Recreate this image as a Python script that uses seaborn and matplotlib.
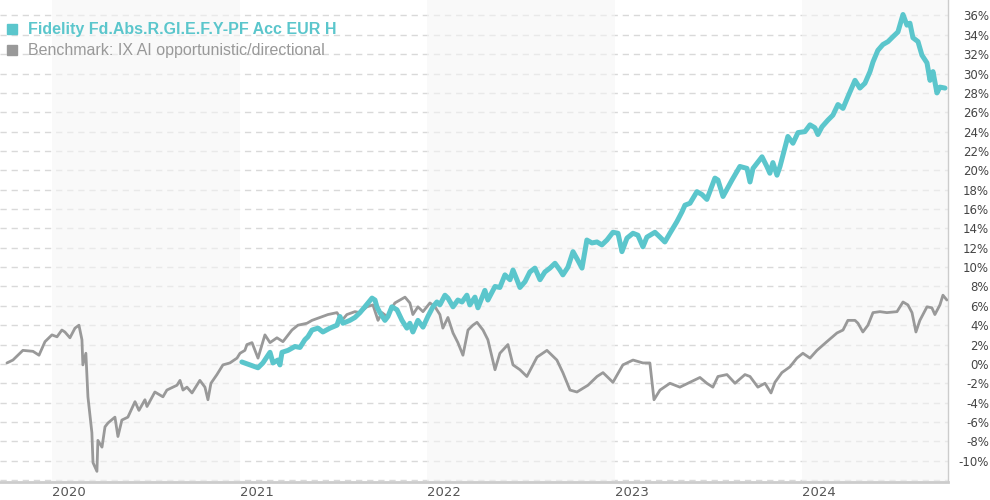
import numpy as np
import pandas as pd
import matplotlib.pyplot as plt
import seaborn as sns
from matplotlib.lines import Line2D


# Data, time as decimal years, values in %

bench_t = [2019.760, 2019.792, 2019.845, 2019.899, 2019.931, 2019.963, 2020.000, 2020.027,
           2020.053, 2020.069, 2020.096, 2020.123, 2020.144, 2020.160, 2020.165, 2020.181,
           2020.192, 2020.213, 2020.219, 2020.240, 2020.245, 2020.267, 2020.283, 2020.299,
           2020.336, 2020.352, 2020.373, 2020.405, 2020.443, 2020.464, 2020.496, 2020.507,
           2020.549, 2020.592, 2020.613, 2020.667, 2020.683, 2020.699, 2020.720, 2020.747,
           2020.789, 2020.816, 2020.832, 2020.848, 2020.880, 2020.912, 2020.949, 2020.987,
           2021.003, 2021.029, 2021.040, 2021.067, 2021.083, 2021.099, 2021.136, 2021.163,
           2021.200, 2021.232, 2021.280, 2021.312, 2021.360, 2021.387, 2021.429, 2021.472,
           2021.520, 2021.547, 2021.573, 2021.616, 2021.643, 2021.680, 2021.712, 2021.739,
           2021.760, 2021.787, 2021.829, 2021.883, 2021.909, 2021.925, 2021.952, 2021.979,
           2022.016, 2022.043, 2022.069, 2022.085, 2022.112, 2022.139, 2022.165, 2022.192,
           2022.219, 2022.245, 2022.267, 2022.299, 2022.325, 2022.363, 2022.389, 2022.432,
           2022.459, 2022.496, 2022.533, 2022.587, 2022.640, 2022.693, 2022.725, 2022.763,
           2022.800, 2022.859, 2022.907, 2022.939, 2022.992, 2023.045, 2023.099, 2023.152,
           2023.189, 2023.211, 2023.243, 2023.296, 2023.349, 2023.403, 2023.456, 2023.493,
           2023.525, 2023.552, 2023.600, 2023.643, 2023.696, 2023.723, 2023.765, 2023.803,
           2023.835, 2023.856, 2023.893, 2023.936, 2023.973, 2024.005, 2024.043, 2024.080,
           2024.133, 2024.187, 2024.219, 2024.245, 2024.283, 2024.299, 2024.325, 2024.352,
           2024.379, 2024.416, 2024.453, 2024.507, 2024.539, 2024.565, 2024.587, 2024.608,
           2024.629, 2024.667, 2024.693, 2024.709, 2024.736, 2024.752, 2024.773]
bench_v = [0.1, 0.4, 1.4, 1.3, 0.9, 2.3, 3.0, 2.8,
           3.5, 3.3, 2.7, 3.7, 4.0, 2.5, -0.1, 1.1,
           -3.4, -7.1, -10.2, -11.1, -7.9, -8.6, -6.5, -6.1,
           -5.5, -7.5, -5.8, -5.5, -3.9, -4.8, -3.7, -4.4,
           -2.9, -3.4, -2.7, -2.2, -1.7, -2.7, -2.4, -3.0,
           -1.7, -2.4, -3.7, -2.0, -1.1, -0.1, 0.1, 0.6,
           1.1, 1.4, 2.0, 2.2, 1.4, 0.6, 3.0, 2.2,
           2.7, 2.3, 3.5, 4.0, 4.2, 4.5, 4.8, 5.1,
           5.3, 4.5, 5.1, 5.4, 5.3, 5.9, 6.1, 4.5,
           5.3, 4.9, 6.3, 6.9, 6.3, 5.1, 5.9, 5.4,
           6.3, 5.9, 5.1, 3.7, 4.8, 3.2, 2.2, 0.9,
           3.5, 4.0, 4.3, 3.5, 2.5, -0.6, 1.1, 2.0,
           -0.1, -0.6, -1.3, 0.7, 1.4, 0.4, -0.9, -2.7,
           -2.9, -2.2, -1.3, -0.9, -1.9, -0.1, 0.4, 0.1,
           0.1, -3.7, -2.7, -2.0, -2.4, -1.9, -1.4, -2.0,
           -2.4, -1.3, -1.1, -2.0, -1.1, -1.3, -2.4, -2.0,
           -3.0, -1.9, -0.9, -0.3, 0.6, 1.1, 0.6, 1.4,
           2.3, 3.2, 3.5, 4.5, 4.5, 4.2, 3.3, 4.0,
           5.3, 5.4, 5.3, 5.4, 6.4, 6.1, 5.3, 3.3,
           4.5, 5.9, 5.8, 5.1, 6.1, 7.1, 6.6]

fund_t = [2021.013, 2021.099, 2021.125, 2021.163, 2021.179, 2021.205, 2021.216, 2021.227,
          2021.259, 2021.296, 2021.323, 2021.349, 2021.365, 2021.387, 2021.419, 2021.445,
          2021.483, 2021.520, 2021.536, 2021.552, 2021.589, 2021.616, 2021.643, 2021.669,
          2021.707, 2021.723, 2021.733, 2021.749, 2021.776, 2021.792, 2021.813, 2021.840,
          2021.867, 2021.893, 2021.909, 2021.925, 2021.952, 2021.979, 2022.005, 2022.032,
          2022.053, 2022.069, 2022.096, 2022.112, 2022.139, 2022.165, 2022.187, 2022.213,
          2022.229, 2022.256, 2022.272, 2022.309, 2022.325, 2022.363, 2022.389, 2022.416,
          2022.443, 2022.459, 2022.480, 2022.496, 2022.523, 2022.549, 2022.576, 2022.603,
          2022.629, 2022.656, 2022.683, 2022.709, 2022.725, 2022.752, 2022.779, 2022.805,
          2022.827, 2022.853, 2022.880, 2022.907, 2022.933, 2022.960, 2022.992, 2023.019,
          2023.040, 2023.067, 2023.099, 2023.125, 2023.152, 2023.173, 2023.216, 2023.243,
          2023.269, 2023.296, 2023.333, 2023.360, 2023.376, 2023.403, 2023.440, 2023.467,
          2023.493, 2023.536, 2023.552, 2023.579, 2023.627, 2023.669, 2023.707, 2023.723,
          2023.739, 2023.787, 2023.813, 2023.829, 2023.845, 2023.867, 2023.883, 2023.925,
          2023.952, 2023.979, 2024.016, 2024.043, 2024.069, 2024.085, 2024.107, 2024.139,
          2024.165, 2024.192, 2024.219, 2024.245, 2024.283, 2024.309, 2024.336, 2024.363,
          2024.379, 2024.405, 2024.432, 2024.459, 2024.485, 2024.512, 2024.539, 2024.560,
          2024.576, 2024.592, 2024.619, 2024.640, 2024.667, 2024.683, 2024.699, 2024.720,
          2024.736, 2024.763]
fund_v = [0.2, -0.4, 0.1, 1.2, 0.1, 0.4, -0.1, 1.2,
          1.4, 1.8, 1.7, 2.5, 2.8, 3.5, 3.7, 3.3,
          3.7, 4.0, 4.9, 4.2, 4.5, 4.8, 5.3, 5.9,
          6.8, 6.6, 5.9, 5.3, 4.5, 4.9, 5.9, 5.6,
          4.5, 3.7, 4.2, 3.3, 4.5, 3.8, 4.9, 5.9,
          6.4, 6.1, 7.1, 6.8, 5.9, 6.6, 6.4, 7.1,
          6.1, 6.9, 5.8, 7.6, 6.6, 8.0, 7.9, 9.2,
          8.7, 9.7, 8.7, 7.9, 8.5, 9.5, 9.9, 8.7,
          9.5, 9.9, 10.4, 9.7, 9.2, 10.0, 11.6, 10.7,
          9.9, 12.8, 12.5, 12.6, 12.3, 12.8, 13.6, 13.5,
          11.6, 13.0, 13.5, 13.3, 12.1, 13.1, 13.6, 13.1,
          12.6, 13.5, 14.7, 15.7, 16.4, 16.6, 17.8, 17.5,
          17.0, 19.2, 19.0, 17.3, 19.0, 20.4, 20.2, 18.8,
          20.2, 21.4, 20.4, 19.7, 20.8, 19.5, 20.4, 23.5,
          22.8, 23.9, 24.0, 24.7, 24.4, 23.7, 24.5, 25.2,
          25.7, 26.8, 26.4, 27.6, 29.3, 28.5, 29.0, 30.2,
          31.2, 32.4, 33.0, 33.3, 33.8, 34.3, 36.1, 35.0,
          35.2, 33.7, 33.3, 31.9, 31.1, 29.3, 30.2, 28.0,
          28.6, 28.5]

fund_name = "Fidelity Fd.Abs.R.Gl.E.F.Y-PF Acc EUR H"
bench_name = "Benchmark: IX AI opportunistic/directional"
years = [2020, 2021, 2022, 2023, 2024]
shaded_years = [2020, 2022, 2024]
y_ticks = list(range(-12, 37, 2))

fund_color = "#5bc6cc"
bench_color = "#999999"


def to_date(t):
    t = np.asarray(t, dtype=float)
    return pd.Timestamp("2020-01-01") + pd.to_timedelta((t - 2020) * 365.25, unit="D")


bench_df = pd.DataFrame({"date": to_date(bench_t), "value": bench_v})
fund_df = pd.DataFrame({"date": to_date(fund_t), "value": fund_v})

sns.set_style("white")
plt.rcParams["font.family"] = ["Liberation Sans", "DejaVu Sans"]

fig = plt.figure(figsize=(9.9, 5.0), dpi=100)
ax = fig.add_axes([0.0, 0.036, 948 / 990, 0.964])

x_start = to_date([2019.723])[0]
x_end = to_date([2024.779])[0]

# horizontal dashed grid
for v in y_ticks:
    ax.axhline(v, color="#d9d9d9", lw=1.0, ls=(0, (4.5, 3.5)), zorder=0)

# alternating year bands (semi transparent so grid looks lighter inside)
for yr in shaded_years:
    left = pd.Timestamp(f"{yr}-01-01")
    right = min(pd.Timestamp(f"{yr + 1}-01-01"), x_end)
    ax.axvspan(left, right, color="#f5f5f5", alpha=0.6, lw=0, zorder=1)

sns.lineplot(data=bench_df, x="date", y="value", ax=ax, color=bench_color,
             lw=2.0, zorder=3, legend=False)
sns.lineplot(data=fund_df, x="date", y="value", ax=ax, color=fund_color,
             lw=3.6, zorder=4, legend=False)

ax.set_xlim(x_start, x_end)
ax.set_ylim(-12.2, 37.6)
ax.set_xlabel("")
ax.set_ylabel("")

# y axis on the right
ax.yaxis.tick_right()
ax.set_yticks(y_ticks)
ax.set_yticklabels(["" if v == -12 else f"{v}%" for v in y_ticks])
ax.tick_params(axis="y", length=0, pad=29.5, labelsize=8.5, labelcolor="#444444")
for lbl in ax.get_yticklabels():
    lbl.set_horizontalalignment("right")
    lbl.set_family(["DejaVu Sans"])

ax.set_xticks([pd.Timestamp(f"{y}-01-01") for y in years])
ax.set_xticklabels([str(y) for y in years])
ax.tick_params(axis="x", length=0, pad=3, labelsize=9.5, labelcolor="#555555")
for lbl in ax.get_xticklabels():
    lbl.set_horizontalalignment("left")
    lbl.set_family(["DejaVu Sans"])

for side in ["top", "left"]:
    ax.spines[side].set_visible(False)
ax.spines["bottom"].set_color("#cccccc")
ax.spines["bottom"].set_linewidth(2)
ax.spines["right"].set_color("#cccccc")
ax.spines["right"].set_linewidth(1)

handles = [
    Line2D([], [], ls="none", marker="s", markersize=7, color=fund_color),
    Line2D([], [], ls="none", marker="s", markersize=7, color=bench_color),
]
leg = ax.legend(handles, [fund_name, bench_name], loc="upper left",
                bbox_to_anchor=(0.0063, 0.954), frameon=False, handlelength=0.8,
                handletextpad=0.55, labelspacing=0.38, borderaxespad=0, borderpad=0,
                prop={"size": 11.5})
texts = leg.get_texts()
texts[0].set_color(fund_color)
texts[0].set_fontweight("bold")
texts[1].set_color(bench_color)

fig.savefig("out.png", dpi=100)
